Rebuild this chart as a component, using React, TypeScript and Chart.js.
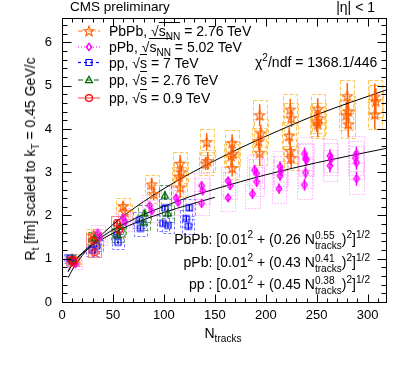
import React, { useEffect, useRef } from "react";
import { Chart, registerables } from "chart.js";

Chart.register(...registerables);

// ---------------- data ----------------
const xTickLabels = [0, 50, 100, 150, 200, 250, 300];
const yTickLabels = [0, 1, 2, 3, 4, 5, 6];

// PbPb, sqrt(sNN) = 2.76 TeV
const pbpbN = [10, 11, 31, 33, 60, 62, 88, 90, 116, 117, 115, 116, 142, 143, 141, 167, 168, 166, 167, 194, 195, 193, 194, 224, 225, 223, 224, 225, 251, 252, 250, 251, 280, 281, 279, 281, 307, 308, 307];
const pbpbR = [1.0, 0.93, 1.55, 1.42, 2.22, 2.08, 2.72, 2.5, 3.2, 3.0, 2.9, 2.65, 3.7, 3.26, 3.2, 3.68, 3.43, 3.38, 3.1, 4.32, 3.9, 3.72, 3.45, 4.45, 4.25, 3.84, 3.49, 3.33, 4.46, 4.25, 4.18, 4.11, 4.76, 4.41, 4.32, 4.11, 4.75, 4.64, 4.34];
const pbpbStat = [0.05, 0.05, 0.08, 0.08, 0.1, 0.1, 0.15, 0.15, 0.2, 0.15, 0.2, 0.25, 0.2, 0.2, 0.15, 0.2, 0.15, 0.25, 0.2, 0.25, 0.2, 0.2, 0.3, 0.25, 0.2, 0.2, 0.3, 0.25, 0.25, 0.2, 0.25, 0.3, 0.3, 0.25, 0.3, 0.3, 0.3, 0.3, 0.35];
const pbpbSys = [0.1, 0.1, 0.14, 0.13, 0.18, 0.17, 0.22, 0.2, 0.26, 0.24, 0.23, 0.21, 0.3, 0.26, 0.26, 0.3, 0.28, 0.27, 0.25, 0.35, 0.32, 0.3, 0.28, 0.36, 0.34, 0.31, 0.28, 0.27, 0.36, 0.34, 0.34, 0.33, 0.38, 0.36, 0.35, 0.33, 0.38, 0.37, 0.35];

// pPb, sqrt(sNN) = 5.02 TeV
const ppbN = [12, 13, 35, 37, 60, 62, 86, 88, 112, 114, 137, 138, 137, 163, 165, 163, 189, 191, 191, 187, 214, 215, 214, 213, 238, 239, 240, 239, 238, 263, 264, 263, 289, 288, 289, 289];
const ppbR = [0.95, 0.88, 1.6, 1.5, 1.95, 1.85, 2.23, 2.1, 2.41, 2.3, 2.69, 2.57, 2.28, 2.8, 2.69, 2.41, 3.05, 2.97, 2.78, 2.5, 3.13, 3.03, 2.92, 2.62, 3.43, 3.31, 3.29, 2.99, 2.71, 3.38, 3.3, 3.15, 3.43, 3.33, 3.22, 2.85];
const ppbStat = [0.04, 0.04, 0.05, 0.05, 0.06, 0.06, 0.07, 0.07, 0.08, 0.08, 0.1, 0.1, 0.1, 0.1, 0.1, 0.1, 0.12, 0.12, 0.12, 0.12, 0.12, 0.12, 0.12, 0.12, 0.14, 0.14, 0.14, 0.14, 0.14, 0.15, 0.15, 0.15, 0.16, 0.16, 0.16, 0.16];
const ppbSys = [0.12, 0.12, 0.18, 0.18, 0.22, 0.22, 0.25, 0.25, 0.28, 0.28, 0.3, 0.3, 0.28, 0.32, 0.32, 0.3, 0.34, 0.34, 0.33, 0.32, 0.35, 0.35, 0.34, 0.33, 0.38, 0.37, 0.37, 0.36, 0.34, 0.38, 0.37, 0.36, 0.4, 0.39, 0.38, 0.36];

// pp, sqrt(s) = 7 TeV
const pp7N = [8, 10, 30, 34, 54, 55, 76, 77, 101, 99, 104, 125, 122, 124];
const pp7R = [1.01, 0.95, 1.2, 1.3, 1.54, 1.38, 1.89, 1.7, 2.18, 1.82, 1.77, 2.18, 1.93, 1.75];
const pp7Stat = [0.02, 0.02, 0.03, 0.03, 0.04, 0.04, 0.05, 0.05, 0.06, 0.06, 0.06, 0.08, 0.08, 0.08];
const pp7Sys = [0.1, 0.1, 0.13, 0.13, 0.16, 0.15, 0.18, 0.17, 0.2, 0.18, 0.18, 0.2, 0.19, 0.18];

// pp, sqrt(s) = 2.76 TeV
const pp276N = [10, 32, 55, 57, 80, 81, 101, 104];
const pp276R = [0.99, 1.47, 1.54, 1.75, 1.84, 2.05, 2.46, 2.05];
const pp276Stat = [0.03, 0.05, 0.06, 0.06, 0.08, 0.08, 0.1, 0.1];
const pp276Sys = [0.1, 0.15, 0.16, 0.17, 0.18, 0.2, 0.24, 0.2];

// pp, sqrt(s) = 0.9 TeV
const pp09N = [10, 11, 30, 32, 54, 56];
const pp09R = [0.97, 0.93, 1.43, 1.15, 1.82, 1.66];
const pp09Stat = [0.03, 0.03, 0.05, 0.05, 0.07, 0.07];
const pp09Sys = [0.1, 0.1, 0.14, 0.12, 0.17, 0.16];

// fit curves
const fitPbPbN = [6, 8, 10, 15, 20, 30, 40, 50, 65, 80, 100, 125, 150, 175, 200, 250, 318];
const fitPbPbR = [0.56, 0.65, 0.74, 0.92, 1.08, 1.35, 1.58, 1.79, 2.07, 2.32, 2.62, 2.96, 3.27, 3.56, 3.83, 4.33, 4.9];
const fitPPbN = [6, 8, 10, 15, 20, 30, 40, 50, 65, 80, 100, 125, 150, 175, 200, 250, 318];
const fitPPbR = [0.7, 0.79, 0.86, 1.02, 1.14, 1.35, 1.52, 1.67, 1.85, 2.02, 2.21, 2.43, 2.61, 2.78, 2.94, 3.22, 3.55];
const fitPPN = [6, 8, 10, 15, 20, 30, 40, 50, 65, 80, 100, 125, 150];
const fitPPR = [0.71, 0.79, 0.86, 1.01, 1.12, 1.31, 1.46, 1.59, 1.76, 1.9, 2.07, 2.25, 2.42];

// ---------------- layout / style ----------------
const W = 407;
const H = 366;
const PLOT = { left: 62, top: 16, right: 386, bottom: 302 };
const X_MAX = 318;
const Y_MAX = 6.57;
const FONT = '"Liberation Sans", Arial, Helvetica, sans-serif';

type Marker = "star" | "diamond" | "square" | "triangle" | "circle";
interface Series {
  N: number[]; R: number[]; stat: number[]; sys: number[];
  color: string; box: string; dash: number[]; legendDash: number[]; legendColor: string;
  marker: Marker; halfW: number;
}

const series: Series[] = [
  { N: pbpbN, R: pbpbR, stat: pbpbStat, sys: pbpbSys, color: "#ff6000", box: "#ffc657", dash: [4, 2], legendDash: [5, 2, 1, 2], legendColor: "#ff7a30", marker: "star", halfW: 7 },
  { N: ppbN, R: ppbR, stat: ppbStat, sys: ppbSys, color: "#ff00ff", box: "#ff88ff", dash: [1, 2], legendDash: [1, 2], legendColor: "#ff00ff", marker: "diamond", halfW: 7 },
  { N: pp7N, R: pp7R, stat: pp7Stat, sys: pp7Sys, color: "#0000ff", box: "#7f7fff", dash: [3, 2], legendDash: [3, 3], legendColor: "#0000ff", marker: "square", halfW: 6 },
  { N: pp276N, R: pp276R, stat: pp276Stat, sys: pp276Sys, color: "#006400", box: "#5fa05f", dash: [4, 2], legendDash: [5, 3], legendColor: "#006400", marker: "triangle", halfW: 6 },
  { N: pp09N, R: pp09R, stat: pp09Stat, sys: pp09Sys, color: "#ff0000", box: "#ff8a8a", dash: [], legendDash: [], legendColor: "#ff6060", marker: "circle", halfW: 6 },
];

const legendRowsY = [31, 47, 62.5, 80, 98];

function starPath(ctx: CanvasRenderingContext2D, cx: number, cy: number, ro: number, ri: number) {
  ctx.beginPath();
  for (let i = 0; i < 10; i++) {
    const r = i % 2 === 0 ? ro : ri;
    const a = -Math.PI / 2 + (i * Math.PI) / 5;
    const px = cx + r * Math.cos(a);
    const py = cy + r * Math.sin(a);
    if (i === 0) ctx.moveTo(px, py);
    else ctx.lineTo(px, py);
  }
  ctx.closePath();
}

function drawMarker(ctx: CanvasRenderingContext2D, m: Marker, x: number, y: number, color: string) {
  ctx.save();
  ctx.setLineDash([]);
  ctx.strokeStyle = color;
  ctx.beginPath();
  if (m === "star") {
    ctx.lineWidth = 1.1;
    starPath(ctx, x, y + 0.5, 5.3, 2.2);
  } else if (m === "diamond") {
    ctx.lineWidth = 1.5;
    ctx.moveTo(x, y - 3.6); ctx.lineTo(x + 2.7, y); ctx.lineTo(x, y + 3.6); ctx.lineTo(x - 2.7, y); ctx.closePath();
  } else if (m === "square") {
    ctx.lineWidth = 1.2;
    ctx.rect(x - 3, y - 3, 6, 6);
  } else if (m === "triangle") {
    ctx.lineWidth = 1.2;
    ctx.moveTo(x, y - 3.8); ctx.lineTo(x + 3.5, y + 2.6); ctx.lineTo(x - 3.5, y + 2.6); ctx.closePath();
  } else {
    ctx.lineWidth = 1.3;
    ctx.arc(x, y, 3.4, 0, Math.PI * 2);
  }
  ctx.stroke();
  ctx.restore();
}

function markerCanvas(m: Marker, color: string): HTMLCanvasElement {
  const c = document.createElement("canvas");
  c.width = 14; c.height = 14;
  const ctx = c.getContext("2d")!;
  drawMarker(ctx, m, 7, 7, color);
  return c;
}

const errorPlugin = {
  id: "errorBoxes",
  beforeDatasetsDraw(chart: any) {
    const { ctx, chartArea } = chart;
    const xs = chart.scales.x;
    const ys = chart.scales.y;
    ctx.save();
    ctx.beginPath();
    ctx.rect(chartArea.left, chartArea.top, chartArea.right - chartArea.left, chartArea.bottom - chartArea.top);
    ctx.clip();
    // systematic boxes
    series.forEach((s) => {
      ctx.strokeStyle = s.box;
      ctx.lineWidth = 1;
      ctx.setLineDash(s.dash);
      s.N.forEach((n, i) => {
        const x0 = Math.round(xs.getPixelForValue(n - s.halfW)) + 0.5;
        const x1 = Math.round(xs.getPixelForValue(n + s.halfW)) + 0.5;
        const y0 = Math.round(ys.getPixelForValue(s.R[i] + s.sys[i])) + 0.5;
        const y1 = Math.round(ys.getPixelForValue(s.R[i] - s.sys[i])) + 0.5;
        ctx.strokeRect(x0, y0, x1 - x0, y1 - y0);
      });
    });
    ctx.setLineDash([]);
    // statistical error bars
    series.forEach((s) => {
      ctx.strokeStyle = s.color;
      ctx.lineWidth = 1.5;
      s.N.forEach((n, i) => {
        const px = xs.getPixelForValue(n);
        ctx.beginPath();
        ctx.moveTo(px, ys.getPixelForValue(s.R[i] + s.stat[i]));
        ctx.lineTo(px, ys.getPixelForValue(s.R[i] - s.stat[i]));
        ctx.stroke();
      });
    });
    ctx.restore();
  },
};

const framePlugin = {
  id: "rootFrame",
  afterDraw(chart: any) {
    const { ctx, chartArea } = chart;
    const xs = chart.scales.x;
    const ys = chart.scales.y;
    const L = Math.round(chartArea.left) + 0.5;
    const R = Math.round(chartArea.right) + 0.5;
    const T = Math.round(chartArea.top) + 0.5;
    const B = Math.round(chartArea.bottom) + 0.5;
    ctx.save();
    ctx.strokeStyle = "#000";
    ctx.lineWidth = 1;
    ctx.setLineDash([]);
    ctx.strokeRect(L, T, R - L, B - T);
    ctx.beginPath();
    // y ticks
    for (let k = 0; k <= Math.floor(Y_MAX * 5 + 1e-6); k++) {
      const v = k / 5;
      const major = k % 5 === 0;
      const len = major ? 9 : 5;
      const py = Math.round(ys.getPixelForValue(v)) + 0.5;
      ctx.moveTo(L, py); ctx.lineTo(L + len, py);
      ctx.moveTo(R, py); ctx.lineTo(R - len, py);
    }
    // x ticks
    for (let v = 0; v <= X_MAX; v += 10) {
      const major = v % 50 === 0;
      const len = major ? 8 : 4;
      const px = Math.round(xs.getPixelForValue(v)) + 0.5;
      ctx.moveTo(px, B); ctx.lineTo(px, B - len);
      ctx.moveTo(px, T); ctx.lineTo(px, T + len);
    }
    ctx.stroke();
    // legend samples
    series.forEach((s, i) => {
      const y = legendRowsY[i];
      ctx.strokeStyle = s.legendColor;
      ctx.lineWidth = 1.2;
      ctx.setLineDash(s.legendDash);
      ctx.beginPath();
      ctx.moveTo(78, y); ctx.lineTo(100, y);
      ctx.stroke();
      drawMarker(ctx, s.marker, 89, y, s.color);
    });
    ctx.restore();
  },
};

const txt: React.CSSProperties = {
  position: "absolute",
  fontFamily: FONT,
  fontSize: 14,
  lineHeight: "14px",
  whiteSpace: "nowrap",
  color: "#000",
};
const sub: React.CSSProperties = { fontSize: "72%", verticalAlign: "-4px", lineHeight: 0 };
const sup: React.CSSProperties = { fontSize: "72%", verticalAlign: "6px", lineHeight: 0 };

function Sqrt({ children }: { children: React.ReactNode }) {
  return (
    <span>
      <span>√</span>
      <span style={{ borderTop: "1px solid #000", paddingTop: 0 }}>{children}</span>
    </span>
  );
}

function NTracks({ p }: { p: string }) {
  return (
    <span>
      N
      <span style={{ display: "inline-flex", flexDirection: "column", fontSize: "72%", lineHeight: "10px", verticalAlign: "5px" }}>
        <span>{p}</span>
        <span>tracks</span>
      </span>
    </span>
  );
}

function Formula({ name, a, p }: { name: string; a: string; p: string }) {
  return (
    <span>
      {name}: [0.01<span style={sup}>2</span> + ({a} <NTracks p={p} />)<span style={sup}>2</span>]<span style={sup}>1/2</span>
    </span>
  );
}

export default function App() {
  const ref = useRef<HTMLCanvasElement>(null);

  useEffect(() => {
    document.body.style.margin = "0";
    const canvas = ref.current!;
    const curve = (N: number[], Rv: number[]) => ({
      type: "line" as const,
      data: N.map((x, i) => ({ x, y: Rv[i] })),
      borderColor: "#000",
      borderWidth: 1,
      pointRadius: 0,
      cubicInterpolationMode: "monotone" as const,
      fill: false,
      order: 10,
    });
    const scatterSets = series.map((s, idx) => ({
      type: "scatter" as const,
      data: s.N.map((x, i) => ({ x, y: s.R[i] })),
      pointStyle: markerCanvas(s.marker, s.color),
      pointRadius: 5,
      borderColor: s.color,
      backgroundColor: "rgba(0,0,0,0)",
      order: 5 - idx,
    }));
    const chart = new Chart(canvas, {
      type: "scatter",
      data: {
        datasets: [
          curve(fitPbPbN, fitPbPbR),
          curve(fitPPbN, fitPPbR),
          curve(fitPPN, fitPPR),
          ...scatterSets,
        ] as any,
      },
      options: {
        responsive: false,
        animation: false,
        events: [],
        layout: { padding: { left: 0, top: PLOT.top, right: W - PLOT.right, bottom: 0 } },
        plugins: { legend: { display: false }, tooltip: { enabled: false } },
        scales: {
          x: {
            type: "linear",
            min: 0,
            max: X_MAX,
            afterFit: (s: any) => { s.height = H - PLOT.bottom; },
            grid: { display: false, drawTicks: false },
            border: { display: false },
            ticks: {
              stepSize: 50,
              includeBounds: false,
              padding: 6,
              color: "#000",
              maxRotation: 0,
              autoSkip: false,
              font: { family: FONT, size: 13 },
              callback: (v: any) => (xTickLabels.includes(Number(v)) ? String(v) : ""),
            },
          },
          y: {
            type: "linear",
            min: 0,
            max: Y_MAX,
            afterFit: (s: any) => { s.width = PLOT.left; },
            grid: { display: false, drawTicks: false },
            border: { display: false },
            ticks: {
              stepSize: 1,
              includeBounds: false,
              padding: 10,
              color: "#000",
              autoSkip: false,
              font: { family: FONT, size: 13 },
              callback: (v: any) => (yTickLabels.includes(Number(v)) ? String(v) : ""),
            },
          },
        },
      } as any,
      plugins: [errorPlugin, framePlugin],
    });
    return () => chart.destroy();
  }, []);

  return (
    <div style={{ position: "absolute", left: 0, top: 0, width: W, height: H, background: "#fff", overflow: "hidden" }}>
      <canvas ref={ref} width={W} height={H} style={{ position: "absolute", left: 0, top: 0, width: W, height: H }} />
      <div style={{ ...txt, left: 70, top: 0, fontSize: 13.5 }}>CMS preliminary</div>
      <div style={{ ...txt, right: W - 375, top: 0 }}>|η| &lt; 1</div>

      <div style={{ ...txt, left: 109, top: legendRowsY[0] - 7 }}>PbPb, <Sqrt>s<span style={sub}>NN</span></Sqrt> = 2.76 TeV</div>
      <div style={{ ...txt, left: 109, top: legendRowsY[1] - 7 }}>pPb, <Sqrt>s<span style={sub}>NN</span></Sqrt> = 5.02 TeV</div>
      <div style={{ ...txt, left: 109, top: legendRowsY[2] - 7 }}>pp, <Sqrt>s</Sqrt> = 7 TeV</div>
      <div style={{ ...txt, left: 109, top: legendRowsY[3] - 7 }}>pp, <Sqrt>s</Sqrt> = 2.76 TeV</div>
      <div style={{ ...txt, left: 109, top: legendRowsY[4] - 7 }}>pp, <Sqrt>s</Sqrt> = 0.9 TeV</div>

      <div style={{ ...txt, left: 255, top: 55 }}>χ<span style={sup}>2</span>/ndf = 1368.1/446</div>

      <div style={{ ...txt, right: W - 370, top: 231 }}><Formula name="PbPb" a="0.26" p="0.55" /></div>
      <div style={{ ...txt, right: W - 370, top: 254 }}><Formula name="pPb" a="0.43" p="0.41" /></div>
      <div style={{ ...txt, right: W - 370, top: 276 }}><Formula name="pp " a="0.45" p="0.38" /></div>

      <div style={{ ...txt, left: 223, top: 326, transform: "translateX(-50%)" }}>
        N<span style={sub}>tracks</span>
      </div>
      <div
        style={{
          ...txt,
          left: 30,
          top: 159,
          transform: "translate(-50%, -50%) rotate(-90deg)",
        }}
      >
        R<span style={sub}>t</span> [fm] scaled to k<span style={sub}>T</span> = 0.45 GeV/c
      </div>
    </div>
  );
}
